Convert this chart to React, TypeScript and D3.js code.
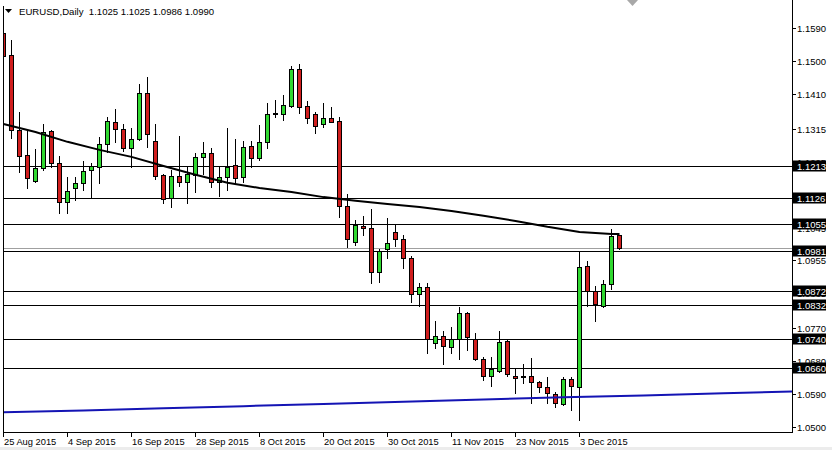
import React from "react";
import * as d3 from "d3";

// ---- data ----
const dateLabels = ["25 Aug 2015", "4 Sep 2015", "16 Sep 2015", "28 Sep 2015", "8 Oct 2015", "20 Oct 2015", "30 Oct 2015", "11 Nov 2015", "23 Nov 2015", "3 Dec 2015"];
const dateLabelIdx = [0, 8, 16, 24, 32, 40, 48, 56, 64, 72];

const open = [1.1576, 1.1516, 1.1311, 1.1243, 1.1172, 1.1208, 1.1309, 1.1221, 1.1115, 1.1153,
  1.1167, 1.1202, 1.1210, 1.1273, 1.1333, 1.1314, 1.1262, 1.1287, 1.1413, 1.1281,
  1.1189, 1.1126, 1.1186, 1.1169, 1.1189, 1.1238, 1.1249, 1.1169, 1.1183, 1.1216,
  1.1183, 1.1268, 1.1235, 1.1279, 1.1355, 1.1355, 1.1377, 1.1478, 1.1377, 1.1355,
  1.1328, 1.1344, 1.1336, 1.1104, 1.1006, 1.1049, 1.1044, 1.0924, 1.0986, 1.1033,
  1.1014, 1.0962, 1.0864, 1.0883, 1.0730, 1.0749, 1.0719, 1.0741, 1.0812, 1.0741,
  1.0686, 1.0640, 1.0653, 1.0735, 1.0640, 1.0637, 1.0640, 1.0623, 1.0610, 1.0590,
  1.0563, 1.0631, 1.0610, 1.0940, 1.0872, 1.0831, 1.0891, 1.1025];
const high = [1.1645, 1.1557, 1.1361, 1.1311, 1.1260, 1.1328, 1.1311, 1.1240, 1.1183, 1.1183,
  1.1227, 1.1221, 1.1292, 1.1347, 1.1369, 1.1328, 1.1317, 1.1437, 1.1456, 1.1328,
  1.1191, 1.1202, 1.1295, 1.1210, 1.1249, 1.1279, 1.1262, 1.1210, 1.1317, 1.1287,
  1.1281, 1.1281, 1.1325, 1.1385, 1.1393, 1.1407, 1.1486, 1.1492, 1.1391, 1.1361,
  1.1385, 1.1374, 1.1347, 1.1137, 1.1066, 1.1077, 1.1096, 1.0986, 1.1071, 1.1052,
  1.1025, 1.0967, 1.0894, 1.0894, 1.0790, 1.0763, 1.0773, 1.0828, 1.0815, 1.0757,
  1.0692, 1.0692, 1.0763, 1.0738, 1.0659, 1.0672, 1.0689, 1.0626, 1.0637, 1.0596,
  1.0637, 1.0637, 1.0978, 1.0954, 1.0885, 1.0902, 1.1041, 1.1025];
const low = [1.1393, 1.1290, 1.1197, 1.1153, 1.1169, 1.1202, 1.1210, 1.1085, 1.1085, 1.1120,
  1.1148, 1.1126, 1.1167, 1.1251, 1.1279, 1.1254, 1.1210, 1.1284, 1.1265, 1.1178,
  1.1112, 1.1101, 1.1159, 1.1112, 1.1142, 1.1191, 1.1156, 1.1131, 1.1148, 1.1167,
  1.1169, 1.1210, 1.1230, 1.1262, 1.1347, 1.1339, 1.1374, 1.1358, 1.1331, 1.1303,
  1.1320, 1.1333, 1.1074, 1.0992, 1.0997, 1.1025, 1.0894, 1.0896, 1.0962, 1.0995,
  1.0935, 1.0842, 1.0831, 1.0702, 1.0716, 1.0672, 1.0702, 1.0686, 1.0711, 1.0683,
  1.0629, 1.0612, 1.0651, 1.0640, 1.0593, 1.0621, 1.0566, 1.0596, 1.0566, 1.0555,
  1.0560, 1.0547, 1.0520, 1.0831, 1.0790, 1.0828, 1.0877, 1.0986];
const close = [1.1514, 1.1311, 1.1240, 1.1180, 1.1208, 1.1306, 1.1221, 1.1115, 1.1145, 1.1167,
  1.1200, 1.1213, 1.1273, 1.1336, 1.1314, 1.1262, 1.1287, 1.1413, 1.1301, 1.1186,
  1.1123, 1.1186, 1.1169, 1.1191, 1.1238, 1.1249, 1.1169, 1.1183, 1.1210, 1.1180,
  1.1265, 1.1235, 1.1279, 1.1355, 1.1358, 1.1380, 1.1478, 1.1374, 1.1344, 1.1322,
  1.1344, 1.1334, 1.1104, 1.1014, 1.1052, 1.1044, 1.0924, 1.0981, 1.1003, 1.1014,
  1.0962, 1.0864, 1.0883, 1.0741, 1.0749, 1.0722, 1.0741, 1.0812, 1.0746, 1.0686,
  1.0640, 1.0659, 1.0733, 1.0645, 1.0634, 1.0640, 1.0623, 1.0610, 1.0593, 1.0566,
  1.0631, 1.0612, 1.0937, 1.0872, 1.0836, 1.0891, 1.1022, 1.0990];

const maBlackIdx = [0, 4, 8, 12, 16, 20, 24, 28, 32, 36, 40, 44, 48, 52, 56, 60, 64, 68, 72, 76, 77];
const maBlackVal = [1.1328, 1.1306, 1.1279, 1.1257, 1.1238, 1.1213, 1.1189, 1.1167, 1.1153, 1.1142,
  1.1128, 1.1118, 1.1109, 1.1101, 1.1090, 1.1077, 1.1063, 1.1047, 1.1033, 1.1027, 1.1027];
const maBlueIdx = [0, 10, 20, 30, 40, 50, 60, 70, 80, 90, 99];
const maBlueVal = [1.0540, 1.0545, 1.0551, 1.0557, 1.0563, 1.0569, 1.0575, 1.0581, 1.0586, 1.0592, 1.0597];

const levels = [1.1213, 1.1126, 1.1055, 1.0981, 1.0872, 1.0832, 1.0740, 1.0660];
const bidPrice = 1.0990;
const priceTicks = [1.1590, 1.1500, 1.1410, 1.1315, 1.1225, 1.1135, 1.1045, 1.0955, 1.0865, 1.0770, 1.0680, 1.0590, 1.0500];
const titleText = "EURUSD,Daily  1.1025 1.1025 1.0986 1.0990";

// ---- layout ----
const W = 832, H = 450;
const plotL = 3, plotR = 792, plotB = 432;
const FONT = "'Liberation Sans', Arial, sans-serif";
const BULL = "#30d830", BEAR = "#d01e1e";

export default function App() {
  const x = d3.scaleLinear().domain([0, 77]).range([3.5, 619.5]);
  const y = d3.scaleLinear().domain([1.05, 1.159]).range([427, 28]);
  const py = (p: number) => Math.round(y(p)) + 0.5;

  const lineBlack = d3.line<number>().x((_, i) => x(maBlackIdx[i])).y((d) => y(d)).curve(d3.curveLinear);
  const lineBlue = d3.line<number>().x((_, i) => x(maBlueIdx[i])).y((d) => y(d)).curve(d3.curveLinear);

  return (
    <svg width={W} height={H} style={{ position: "fixed", left: 0, top: 0, background: "#fff" }} fontFamily={FONT}>
      <defs>
        <clipPath id="plot">
          <rect x={plotL} y={0} width={plotR - plotL} height={plotB} />
        </clipPath>
      </defs>
      <rect x={0} y={0} width={W} height={H} fill="#fff" />
      <rect x={0} y={447} width={W} height={3} fill="#ececec" />

      <g clipPath="url(#plot)">
        {/* horizontal level lines */}
        <line x1={plotL} x2={plotR} y1={Math.round(y(bidPrice)) + 0.5} y2={Math.round(y(bidPrice)) + 0.5} stroke="#a0a0a0" strokeWidth={1} />
        {levels.map((lv, i) => (
          <line key={i} x1={plotL} x2={plotR} y1={py(lv)} y2={py(lv)} stroke="#000" strokeWidth={1} />
        ))}
        {/* candles */}
        {open.map((o, i) => {
          const c = close[i];
          const cx = x(i);
          const top = Math.round(y(Math.max(o, c)));
          const bot = Math.round(y(Math.min(o, c)));
          const bull = c >= o;
          return (
            <g key={i}>
              <line x1={cx} x2={cx} y1={Math.round(y(high[i]))} y2={Math.round(y(low[i])) + 1} stroke="#000" strokeWidth={1} />
              <rect x={cx - 2} y={top + 0.5} width={4} height={Math.max(bot - top, 0.5)} fill={bull ? BULL : BEAR} stroke="#000" strokeWidth={1} />
            </g>
          );
        })}
        {/* moving averages */}
        <path d={lineBlue(maBlueVal) || ""} fill="none" stroke="#1414b4" strokeWidth={2} />
        <path d={lineBlack(maBlackVal) || ""} fill="none" stroke="#000" strokeWidth={2} />
      </g>

      {/* frame */}
      <line x1={plotL + 0.5} x2={plotL + 0.5} y1={6} y2={plotB + 5} stroke="#000" strokeWidth={1} />
      <line x1={plotL} x2={plotR + 1} y1={plotB + 0.5} y2={plotB + 0.5} stroke="#000" strokeWidth={1} />
      <line x1={plotR + 0.5} x2={plotR + 0.5} y1={0} y2={plotB + 1} stroke="#000" strokeWidth={1} />

      {/* date axis */}
      {dateLabelIdx.map((bi, k) => {
        const tx = Math.floor(x(bi)) + 0.5;
        return (
          <g key={k}>
            <line x1={tx} x2={tx} y1={plotB} y2={plotB + 5} stroke="#000" strokeWidth={1} />
            <text x={tx + 0.5} y={445} fontSize={9.3} fill="#000">{dateLabels[k]}</text>
          </g>
        );
      })}

      {/* price axis */}
      {priceTicks.map((p, k) => (
        <g key={k}>
          <line x1={plotR} x2={plotR + 4} y1={py(p)} y2={py(p)} stroke="#000" strokeWidth={1} />
          <text x={797} y={py(p)} dy="0.35em" fontSize={9.5} fill="#000">{p.toFixed(4)}</text>
        </g>
      ))}
      {levels.map((lv, k) => (
        <g key={k}>
          <rect x={793} y={py(lv) - 6} width={33} height={11} fill="#000" />
          <text x={797} y={py(lv)} dy="0.35em" fontSize={9.5} fill="#fff">{lv.toFixed(4)}</text>
        </g>
      ))}

      {/* title */}
      <path d="M5,9 L12,9 L8.5,13 Z" fill="#000" />
      <text x={19} y={15} fontSize={9.6} fill="#000" style={{ whiteSpace: "pre" }}>{titleText}</text>

      {/* shift marker */}
      <path d="M627,0 L638,0 L632.5,6 Z" fill="#a8a8a8" />
    </svg>
  );
}
